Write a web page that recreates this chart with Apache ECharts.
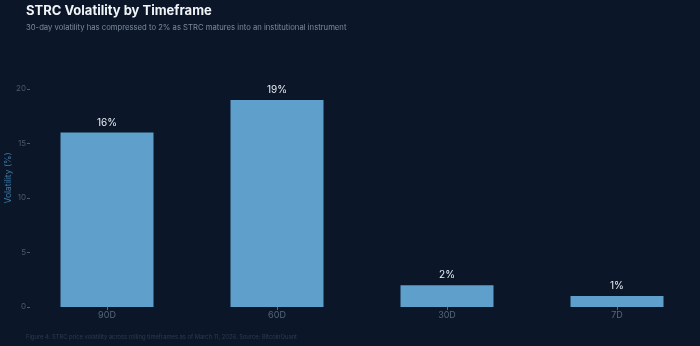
<!DOCTYPE html>
<html><head><meta charset="utf-8">
<script src="https://cdn.jsdelivr.net/npm/echarts@6/dist/echarts.min.js"></script>
<style>html,body{margin:0;padding:0;background:#0b1729;}#c{width:700px;height:346px;}</style>
</head><body><div id="c"></div>
<script>
const categories = ['90D', '60D', '30D', '7D'];
const volatility = [16, 19, 2, 1];
const valueLabels = ['16%', '19%', '2%', '1%'];
const yTicks = [0, 5, 10, 15, 20];

const chart = echarts.init(document.getElementById('c'));
chart.setOption({
  backgroundColor: '#0b1729',
  animation: false,
  textStyle: { fontFamily: 'Inter, "Noto Sans", sans-serif' },
  title: [
    { text: 'STRC Volatility by Timeframe', left: 21, top: 0,
      textStyle: { color: '#f2f5f8', fontSize: 13, fontWeight: 'bold', fontFamily: 'Inter' } },
    { text: '30-day volatility has compressed to 2% as STRC matures into an institutional instrument', left: 21, top: 19,
      textStyle: { color: '#7d8a99', fontSize: 7.7, fontWeight: 'normal', fontFamily: 'Inter' } },
    { text: 'Figure 4: STRC price volatility across rolling timeframes as of March 11, 2026. Source: BitcoinQuant', left: 21, top: 329,
      textStyle: { color: '#2c3b4e', fontSize: 5.8, fontWeight: 'normal', fontFamily: 'Inter' } }
  ],
  grid: { left: 22, width: 680, top: 49, bottom: 39, outerBoundsMode: 'none', containLabel: false },
  xAxis: {
    type: 'category', data: categories,
    axisLine: { show: false },
    axisTick: { show: true, alignWithLabel: true, length: 3, lineStyle: { color: '#5a6b7c' } },
    axisLabel: { color: '#55677a', fontSize: 9, margin: 4 }
  },
  yAxis: {
    type: 'value', min: 0, max: 23.67, interval: 5, offset: -8,
    name: 'Volatility (%)', nameLocation: 'middle', nameGap: 17, nameMoveOverlap: false,
    nameTextStyle: { color: '#3f7aa6', fontSize: 8.5 },
    axisLine: { show: false },
    axisTick: { show: true, length: 3, lineStyle: { color: '#4a5a6b' } },
    axisLabel: { color: '#4a5a6b', fontSize: 8, margin: 4, showMaxLabel: false,
      formatter: v => yTicks.indexOf(v) >= 0 ? String(v) : '' },
    splitLine: { show: false }
  },
  series: [{
    type: 'bar', data: volatility, barWidth: 93,
    itemStyle: { color: '#5f9fcb' },
    label: { show: true, position: 'top', distance: 5, color: '#e8eef4', fontSize: 10,
      formatter: p => valueLabels[p.dataIndex] }
  }]
});
</script></body></html>
